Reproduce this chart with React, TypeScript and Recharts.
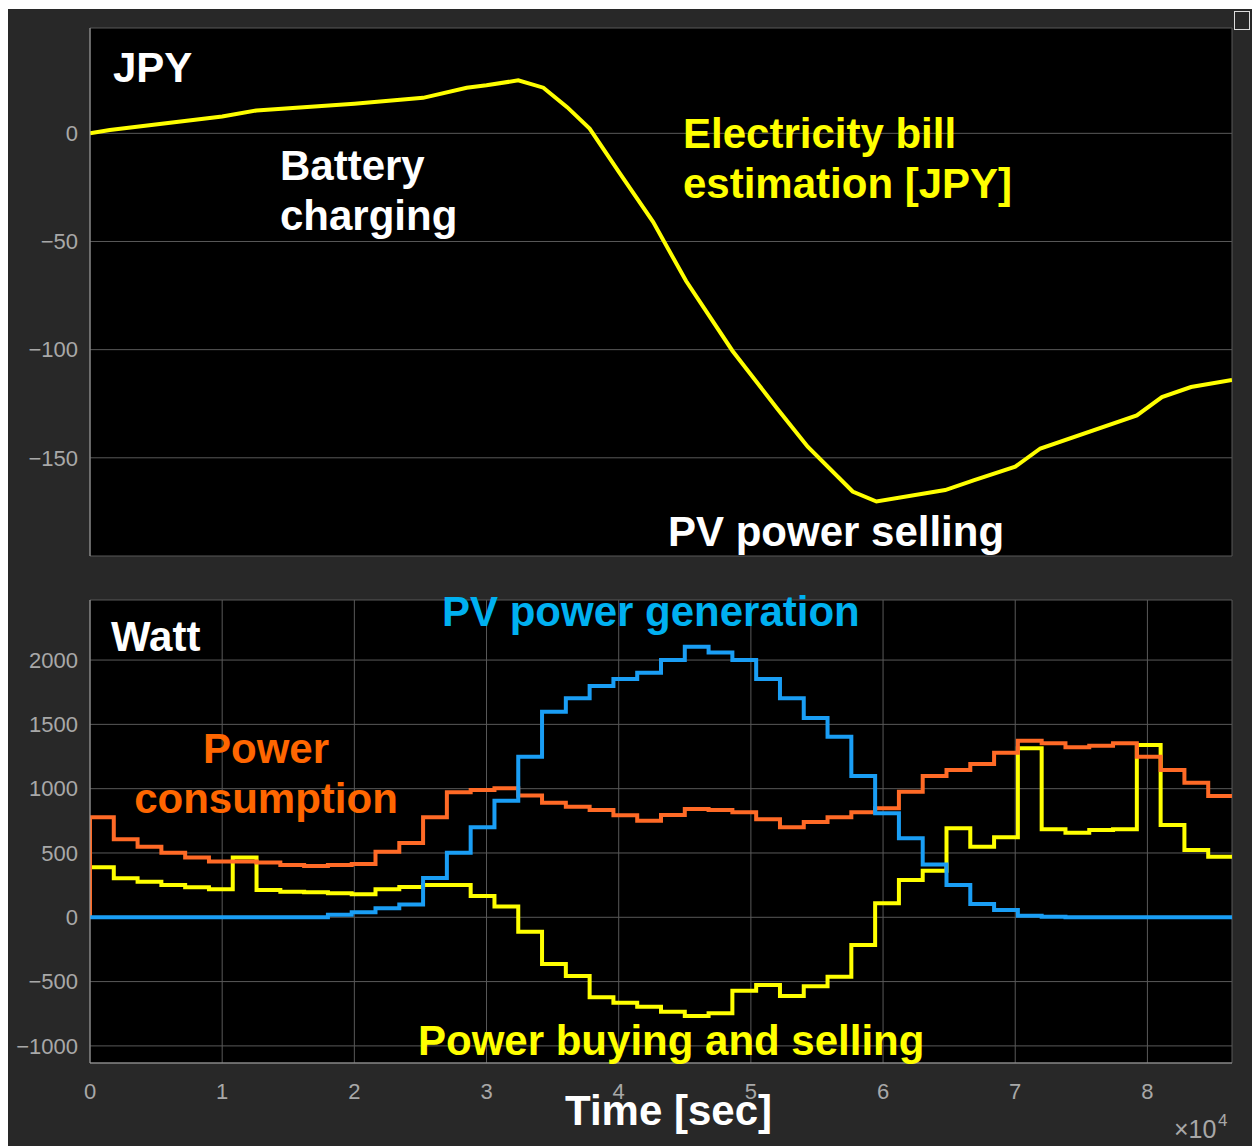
import { LineChart, Line, XAxis, YAxis, CartesianGrid } from 'recharts'

// simulation runs one day in 30 min steps
const STEP = 1800
const DAY = 86400
const timeTicks = [0, 10000, 20000, 30000, 40000, 50000, 60000, 70000, 80000]

// top panel: electricity bill estimation [JPY]
const billTimes = [0, 1500, 10000, 12600, 20000, 25200, 28500, 30000, 32400, 34300, 36100, 37800, 40100, 42600, 45100, 48600, 52000, 54300, 57700, 59500, 64700, 66900, 70000, 71900, 79200, 81100, 83300, 86400]
const billValues = [0, 1.5, 7.8, 10.6, 13.7, 16.4, 21.1, 22.2, 24.5, 21.1, 12.1, 2.2, -18.6, -40.9, -68.3, -100.5, -127.3, -144.9, -165.6, -170.2, -164.9, -160.3, -154.1, -145.7, -130.4, -121.9, -117.3, -114]
const billTicks = [-150, -100, -50, 0]

// bottom panel: power [W], one value per 30 min slot
const consumption = [
  778, 607, 549, 502, 464, 433, 433, 425, 407, 399, 407, 414,
  510, 578, 778, 972, 990, 1003, 946, 891, 860, 834, 793, 751,
  795, 842, 834, 816, 762, 700, 740, 778, 816, 848, 977, 1099,
  1145, 1192, 1280, 1373, 1353, 1322, 1334, 1353, 1249, 1145, 1047, 943,
]
const pvGeneration = [
  0, 0, 0, 0, 0, 0, 0, 0, 0, 0, 20, 40,
  70, 100, 305, 502, 700, 907, 1249, 1599, 1703, 1799, 1853, 1902,
  2001, 2104, 2058, 2001, 1853, 1703, 1550, 1404, 1099, 809, 614, 410,
  251, 103, 57, 12, 5, 0, 0, 0, 0, 0, 0, 0,
]
const buySell = [
  389, 303, 277, 251, 233, 218, 465, 212, 199, 194, 187, 179,
  218, 235, 251, 251, 166, 83, -112, -363, -456, -622, -664, -695,
  -734, -767, -747, -571, -526, -612, -537, -462, -215, 109, 290, 362,
  692, 549, 622, 1314, 684, 658, 679, 684, 1340, 718, 523, 471,
]
const powerTicks = [-1000, -500, 0, 500, 1000, 1500, 2000]

const billData = billTimes.map((t, i) => ({ t, bill: billValues[i] }))

const last = consumption.length - 1
const powerData = [
  { t: 0, load: 0, pv: 0, grid: 0 },
  ...consumption.map((v, i) => ({ t: i * STEP, load: v, pv: pvGeneration[i], grid: buySell[i] })),
  { t: DAY, load: consumption[last], pv: pvGeneration[last], grid: buySell[last] },
]

const BG = '#282828'
const GRID = '#595959'
const FRAME = '#9e9e9e'
const TICK = '#a8a8a8'
const YELLOW = '#ffff00'
const ORANGE = '#ff6a26'
const BLUE = '#1a9ef5'
const FONT = 'Liberation Sans, Arial, sans-serif'
const tickFont = { fill: TICK, fontSize: 22, fontFamily: FONT }

const fmt = (v: number) => (v < 0 ? `\u2212${Math.abs(v)}` : `${v}`)

function Labels() {
  const bold = { fontFamily: FONT, fontWeight: 700, fontSize: 42 }
  return (
    <svg width={1252} height={1146} style={{ position: 'absolute', left: 0, top: 0, pointerEvents: 'none' }}>
      <text x={113} y={82} fill="#fff" {...bold}>JPY</text>
      <text x={280} y={180} fill="#fff" {...bold}>Battery</text>
      <text x={280} y={230} fill="#fff" {...bold}>charging</text>
      <text x={683} y={148} fill={YELLOW} {...bold}>Electricity bill</text>
      <text x={683} y={198} fill={YELLOW} {...bold}>estimation [JPY]</text>
      <text x={668} y={546} fill="#fff" {...bold}>PV power selling</text>
      <text x={111} y={651} fill="#fff" {...bold}>Watt</text>
      <text x={442} y={626} fill="#00b0f0" {...bold}>PV power generation</text>
      <text x={266} y={763} fill="#ff6600" textAnchor="middle" {...bold}>Power</text>
      <text x={266} y={813} fill="#ff6600" textAnchor="middle" {...bold}>consumption</text>
      <text x={418} y={1055} fill={YELLOW} {...bold}>Power buying and selling</text>
      <text x={565} y={1125} fill="#fff" {...bold}>Time [sec]</text>
      <text x={1174} y={1138} fill={TICK} fontFamily={FONT} fontSize={25}>
        {'\u00d710'}
      </text>
      <text x={1218} y={1126} fill={TICK} fontFamily={FONT} fontSize={17}>4</text>
    </svg>
  )
}

export default function App() {
  return (
    <div style={{ position: 'fixed', left: 0, top: 0, width: 1252, height: 1146, background: '#fff', overflow: 'hidden' }}>
      <div style={{ position: 'absolute', left: 8, top: 9, right: 0, bottom: 0, background: BG }} />
      <div style={{ position: 'absolute', left: 1234, top: 11, width: 16, height: 19, border: '1px solid #ddd', boxSizing: 'border-box' }} />

      <div style={{ position: 'absolute', left: 0, top: 0 }}>
        <LineChart width={1252} height={580} data={billData} margin={{ top: 28, right: 20, bottom: 24, left: 30 }}>
          <CartesianGrid stroke={GRID} fill="#000" fillOpacity={1} />
          <XAxis type="number" dataKey="t" domain={[0, DAY]} ticks={timeTicks} allowDataOverflow height={0} tick={false} tickLine={false} axisLine={{ stroke: FRAME }} />
          <XAxis xAxisId="top" type="number" orientation="top" domain={[0, DAY]} height={0} tick={false} tickLine={false} axisLine={{ stroke: FRAME }} />
          <YAxis type="number" domain={[-195.4, 48.7]} ticks={billTicks} allowDataOverflow width={60} tickFormatter={fmt} tick={tickFont} tickLine={false} tickSize={6} tickMargin={6} axisLine={{ stroke: FRAME }} />
          <YAxis yAxisId="right" type="number" orientation="right" domain={[-195.4, 48.7]} width={0} tick={false} tickLine={false} axisLine={{ stroke: FRAME }} />
          <Line type="linear" dataKey="bill" stroke={YELLOW} strokeWidth={4} dot={false} isAnimationActive={false} />
        </LineChart>
      </div>

      <div style={{ position: 'absolute', left: 0, top: 580 }}>
        <LineChart width={1252} height={566} data={powerData} margin={{ top: 20, right: 20, bottom: 43, left: 30 }}>
          <CartesianGrid stroke={GRID} fill="#000" fillOpacity={1} />
          <XAxis type="number" dataKey="t" domain={[0, DAY]} ticks={timeTicks} allowDataOverflow height={40} tickFormatter={(v: number) => `${v / 10000}`} tick={tickFont} tickLine={false} tickSize={6} tickMargin={14} axisLine={{ stroke: FRAME }} />
          <XAxis xAxisId="top" type="number" orientation="top" domain={[0, DAY]} height={0} tick={false} tickLine={false} axisLine={{ stroke: FRAME }} />
          <YAxis type="number" domain={[-1133, 2467]} ticks={powerTicks} allowDataOverflow width={60} tickFormatter={fmt} tick={tickFont} tickLine={false} tickSize={6} tickMargin={6} axisLine={{ stroke: FRAME }} />
          <YAxis yAxisId="right" type="number" orientation="right" domain={[-1133, 2467]} width={0} tick={false} tickLine={false} axisLine={{ stroke: FRAME }} />
          <Line type="stepAfter" dataKey="grid" stroke={YELLOW} strokeWidth={4} dot={false} isAnimationActive={false} />
          <Line type="stepAfter" dataKey="load" stroke={ORANGE} strokeWidth={4} dot={false} isAnimationActive={false} />
          <Line type="stepAfter" dataKey="pv" stroke={BLUE} strokeWidth={4} dot={false} isAnimationActive={false} />
        </LineChart>
      </div>

      <Labels />
    </div>
  )
}
